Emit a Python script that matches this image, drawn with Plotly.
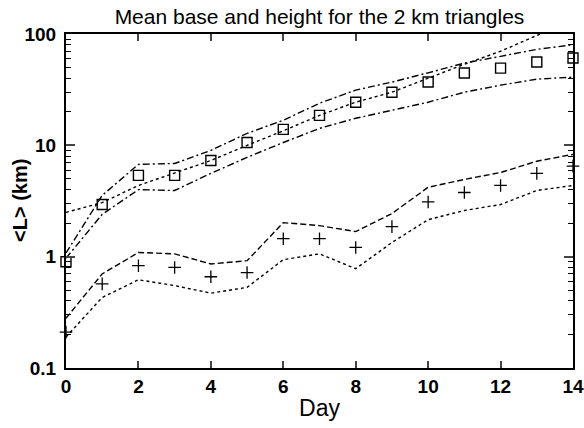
import plotly.graph_objects as go

days = list(range(15))

# Mean base (squares) and its band
base_mean = [0.90, 2.94, 5.37, 5.37, 7.3, 10.6, 13.9, 18.6, 24.4, 30.0, 37.0, 44.6, 49.4, 56.0, 60.8]
base_upper = [1.08, 3.55, 6.74, 6.87, 9.0, 12.8, 16.8, 23.9, 31.3, 37.0, 44.8, 54.8, 63.0, 72.8, 80.0]
base_lower = [0.97, 2.4, 4.0, 3.93, 5.6, 7.8, 10.6, 14.2, 17.5, 20.7, 24.4, 30.0, 34.7, 39.3, 41.0]
base_curve = [2.5, 3.06, 4.36, 5.6, 7.3, 10.0, 13.5, 18.6, 24.4, 30.0, 40.0, 53.5, 70.0, 97.0, 130.0]

# Mean height (plus) and its band
height_mean = [0.21, 0.57, 0.83, 0.80, 0.66, 0.72, 1.45, 1.45, 1.21, 1.86, 3.1, 3.77, 4.36, 5.6, 6.5]
height_upper = [0.28, 0.70, 1.09, 1.06, 0.86, 0.92, 2.02, 1.9, 1.68, 2.44, 4.2, 4.94, 5.7, 7.2, 8.3]
height_lower = [0.19, 0.43, 0.62, 0.55, 0.47, 0.53, 0.94, 1.06, 0.78, 1.34, 2.15, 2.6, 2.94, 3.93, 4.36]

y_tickvals = [0.1, 1, 10, 100]
y_ticktext = ["0.1", "1", "10", "100"]
x_tickvals = [0, 2, 4, 6, 8, 10, 12, 14]

DASHDOT = "7px,3px,2px,3px"
SHORT = "3px,3px"
LONG = "6px,3px"

fig = go.Figure()

def line(y, dash):
    fig.add_trace(go.Scatter(x=days, y=y, mode="lines",
                             line=dict(color="black", width=1.4, dash=dash),
                             showlegend=False, hoverinfo="skip"))

line(base_upper, DASHDOT)
line(base_lower, DASHDOT)
line(base_curve, SHORT)
line(height_upper, LONG)
line(height_lower, SHORT)

fig.add_trace(go.Scatter(x=days, y=base_mean, mode="markers", cliponaxis=False,
                         marker=dict(symbol="square-open", size=10, color="black",
                                     line=dict(width=1.4, color="black")),
                         showlegend=False))
fig.add_trace(go.Scatter(x=days, y=height_mean, mode="markers", cliponaxis=False,
                         marker=dict(symbol="cross-thin", size=9, color="black",
                                     line=dict(width=1.3, color="black")),
                         showlegend=False))

minor_vals = []
for dec in [0.1, 1, 10]:
    for k in range(2, 10):
        minor_vals.append(dec * k)

TICKFONT = dict(size=19, family="Liberation Sans, Arial", weight="bold")
PLOT_W = 584 - 66 - 11

fig.update_layout(
    width=584, height=428,
    margin=dict(l=66, r=11, t=34, b=60),
    paper_bgcolor="white", plot_bgcolor="white",
    font=dict(family="Liberation Sans, Arial, sans-serif", color="black"),
    title=dict(text="Mean base and height for the 2 km triangles",
               x=(66 + 573) / 2 / 584, xanchor="center", y=1 - 17 / 428, yanchor="middle",
               font=dict(size=21, color="black")),
    xaxis=dict(range=[0, 14], tickvals=x_tickvals, ticks="inside", ticklen=7, tickwidth=1.5,
               showline=True, linewidth=2, linecolor="black", mirror="ticks",
               showgrid=False, zeroline=False, automargin=False,
               tickfont=TICKFONT,
               title=dict(text="Day", font=dict(size=23), standoff=4)),
    yaxis=dict(type="log", range=[-1, 2], tickvals=y_tickvals, ticktext=y_ticktext,
               ticks="inside", ticklen=9, tickwidth=1.5,
               showline=True, linewidth=2, linecolor="black", mirror="ticks",
               showgrid=False, zeroline=False, ticklabelstandoff=4, automargin=False,
               minor=dict(tickvals=minor_vals, ticks="inside", ticklen=5, tickwidth=1.2,
                          tickcolor="black", showgrid=False),
               tickfont=TICKFONT),
    annotations=[dict(text="<b>&lt;L&gt; (km)</b>", textangle=-90,
                      xref="paper", yref="paper", x=(20 - 66) / PLOT_W, y=0.5,
                      xanchor="center", yanchor="middle", showarrow=False,
                      font=dict(size=20, color="black"))],
)

fig.write_html("out.html")
